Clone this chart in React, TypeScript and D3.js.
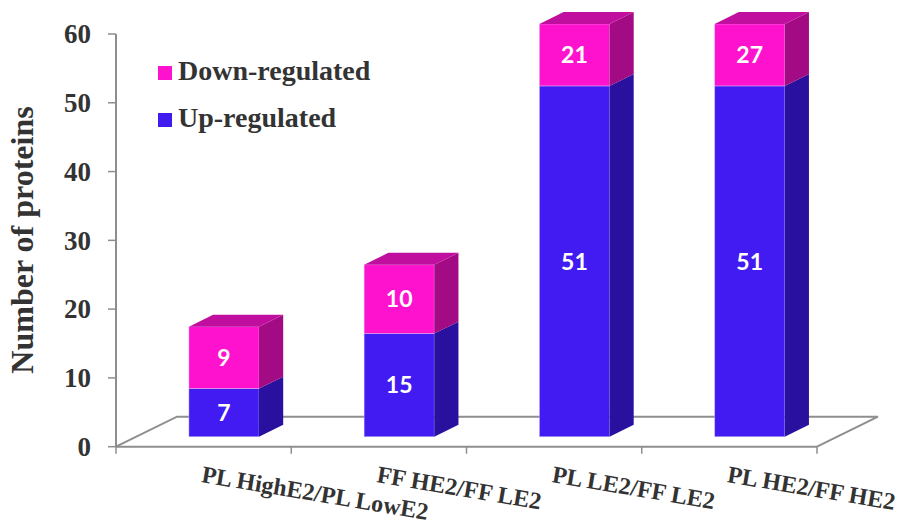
import React from "react";
import * as d3 from "d3";

// Comparisons shown on the horizontal axis
const categories = [
  "PL HighE2/PL LowE2",
  "FF HE2/FF LE2",
  "PL LE2/FF LE2",
  "PL HE2/FF HE2",
];
// Stacked series (bottom to top)
const upRegulated = [7, 15, 51, 51];
const downRegulated = [9, 10, 21, 27];
const yTicks = [0, 10, 20, 30, 40, 50, 60];
const seriesNames = ["Down-regulated", "Up-regulated"];

const W = 902;
const H = 527;
const plotLeft = 116;
const plotRight = 817;
const floorY = 446.7;
const topY = 34;
// Depth of the floor (x, y) in the oblique projection
const depthX = 61;
const depthY = -30;
// Bars sit between these fractions of the floor depth
const barDepthStart = 1 / 3;
const barDepthEnd = 0.73;

const COLORS = {
  down: { front: "#FF12CE", top: "#C00F9E", side: "#A20B84" },
  up: { front: "#421BF2", top: "#3414C4", side: "#2A109E" },
};
const AXIS = "#8E8E8E";
const TEXT = "#333333";
const SERIF = "'Liberation Serif', 'Times New Roman', serif";

export default function App() {
  const x = d3.scaleBand<string>().domain(categories).range([plotLeft, plotRight]);
  const y = d3.scaleLinear().domain([0, 60]).range([floorY, topY]);
  const maxV = y.domain()[1];

  const fx = depthX * barDepthStart;
  const fy = depthY * barDepthStart;
  const sx = depthX * (barDepthEnd - barDepthStart);
  const sy = depthY * (barDepthEnd - barDepthStart);
  const barW = x.bandwidth() * 0.4;

  const poly = (pts: [number, number][]) => pts.map((p) => p.join(",")).join(" ");

  const bars = categories.map((cat, i) => {
    const cx = (x(cat) as number) + x.bandwidth() / 2 + fx;
    const x0 = cx - barW / 2;
    const x1 = cx + barW / 2;
    const segs = [
      { key: "up", v0: 0, v1: upRegulated[i], value: upRegulated[i] },
      {
        key: "down",
        v0: upRegulated[i],
        v1: upRegulated[i] + downRegulated[i],
        value: downRegulated[i],
      },
    ];
    // Stacks taller than the axis are cut off at its maximum
    const drawn = segs
      .map((s) => ({ ...s, c0: Math.min(s.v0, maxV), c1: Math.min(s.v1, maxV) }))
      .filter((s) => s.c1 > s.c0);
    const topSeg = drawn[drawn.length - 1];
    return (
      <g key={cat}>
        {drawn.map((s) => {
          const c = COLORS[s.key as "up" | "down"];
          const yb = y(s.c0) + fy;
          const yt = y(s.c1) + fy;
          return (
            <g key={s.key}>
              <rect
                x={x0}
                y={yt}
                width={barW}
                height={yb - yt}
                fill={c.front}
                stroke="#D9CCF7"
                strokeOpacity={0.5}
                strokeWidth={0.8}
              />
              <polygon
                points={poly([
                  [x1, yb],
                  [x1 + sx, yb + sy],
                  [x1 + sx, yt + sy],
                  [x1, yt],
                ])}
                fill={c.side}
              />
              <text
                x={cx}
                y={(yb + yt) / 2}
                dy="0.36em"
                textAnchor="middle"
                fill="#FFFFFF"
                fontFamily="Lato, 'Open Sans', sans-serif"
                fontWeight={700}
                fontSize={23}
              >
                {s.value}
              </text>
            </g>
          );
        })}
        {topSeg && (
          <polygon
            points={poly([
              [x0, y(topSeg.c1) + fy],
              [x0 + sx, y(topSeg.c1) + fy + sy],
              [x1 + sx, y(topSeg.c1) + fy + sy],
              [x1, y(topSeg.c1) + fy],
            ])}
            fill={COLORS[topSeg.key as "up" | "down"].top}
          />
        )}
      </g>
    );
  });

  const xTickPositions = [...categories.map((c) => x(c) as number), plotRight];

  return (
    <svg
      width={W}
      height={H}
      style={{ position: "absolute", left: 0, top: 0, background: "#fff" }}
    >
      {/* floor */}
      <polyline
        points={poly([
          [plotLeft, floorY],
          [plotLeft + depthX, floorY + depthY],
          [plotRight + depthX, floorY + depthY],
          [plotRight, floorY],
        ])}
        fill="none"
        stroke={AXIS}
        strokeWidth={2}
      />
      {bars}
      {/* x axis */}
      <line x1={plotLeft} x2={plotRight} y1={floorY} y2={floorY} stroke={AXIS} strokeWidth={2} />
      {xTickPositions.map((px, i) => (
        <line key={i} x1={px} x2={px} y1={floorY} y2={floorY + 7} stroke={AXIS} strokeWidth={1.5} />
      ))}
      {/* y axis */}
      <line x1={plotLeft} x2={plotLeft} y1={y(60)} y2={floorY} stroke={AXIS} strokeWidth={2} />
      {yTicks.map((t) => (
        <g key={t}>
          <line x1={plotLeft - 8} x2={plotLeft} y1={y(t)} y2={y(t)} stroke={AXIS} strokeWidth={1.5} />
          <text
            x={91}
            y={y(t)}
            dy="0.34em"
            textAnchor="end"
            fontFamily={SERIF}
            fontWeight={700}
            fontSize={27}
            fill={TEXT}
          >
            {t}
          </text>
        </g>
      ))}
      <text
        transform={`translate(33,240) rotate(-90)`}
        textAnchor="middle"
        fontFamily={SERIF}
        fontWeight={700}
        fontSize={32}
        fill={TEXT}
      >
        Number of proteins
      </text>
      {/* category labels */}
      {categories.map((c) => (
        <text
          key={c}
          transform={`translate(${(x(c) as number) + x.bandwidth() / 2 - 3},482) rotate(9.5)`}
          textAnchor="start"
          fontFamily={SERIF}
          fontWeight={700}
          fontSize={24}
          fill={TEXT}
        >
          {c}
        </text>
      ))}
      {/* legend */}
      {seriesNames.map((name, i) => (
        <g key={name} transform={`translate(158,${66 + i * 47})`}>
          <rect width={14} height={14} fill={i === 0 ? COLORS.down.front : COLORS.up.front} />
          <text
            x={20}
            y={14}
            fontFamily={SERIF}
            fontWeight={700}
            fontSize={28}
            fill={TEXT}
          >
            {name}
          </text>
        </g>
      ))}
    </svg>
  );
}
